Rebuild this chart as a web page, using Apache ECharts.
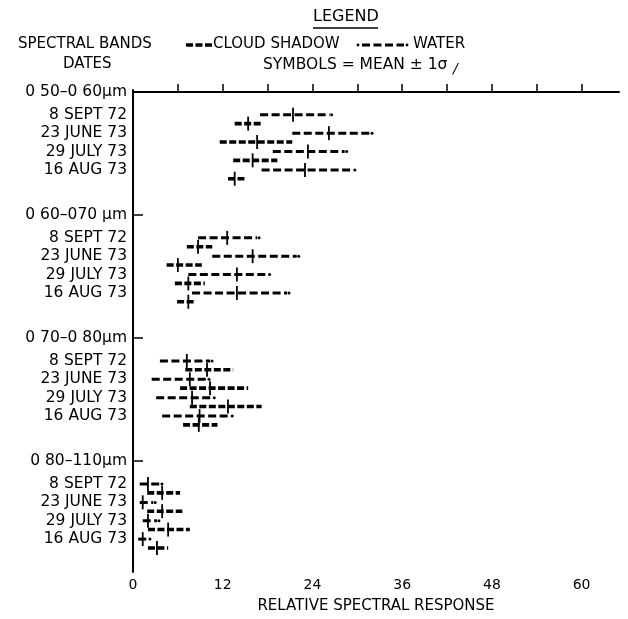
<!DOCTYPE html>
<html>
<head>
<meta charset="utf-8">
<script src="https://cdn.jsdelivr.net/npm/echarts@6/dist/echarts.min.js"></script>
<style>
  html, body { margin: 0; padding: 0; background: #fff; }
  #chart { width: 628px; height: 619px; }
</style>
</head>
<body>
<div id="chart"></div>
<script>
// spectral bands and dates (y axis labels)
const bands = ['0 50\u20130 60\u03bcm', '0 60\u2013070 \u03bcm', '0 70\u20130 80\u03bcm', '0 80\u2013110\u03bcm'];
const dates = ['8 SEPT 72', '23 JUNE 73', '29 JULY 73', '16 AUG 73'];

// relative spectral response, rows = band, cols = date
const waterLow  = [[17.0, 21.3, 18.7, 17.2], [8.7, 10.6, 7.4, 7.9], [3.6, 2.5, 3.1, 3.9], [0.9, 0.9, 1.3, 0.7]];
const waterMean = [[21.4, 26.2, 23.4, 23.0], [12.6, 16.0, 13.9, 13.9], [7.2, 7.6, 7.9, 8.9], [2.0, 1.3, 2.0, 1.3]];
const waterHigh = [[26.3, 31.7, 28.3, 29.4], [16.6, 21.9, 18.0, 20.6], [10.3, 9.9, 10.6, 13.0], [3.6, 2.7, 3.2, 2.0]];

const cloudLow  = [[13.6, 11.6, 13.4, 12.7], [7.2, 4.5, 5.6, 5.9], [7.0, 6.3, 7.6, 6.7], [1.9, 1.9, 2.0, 2.0]];
const cloudMean = [[15.4, 16.6, 16.0, 13.6], [8.7, 6.0, 7.4, 7.4], [9.9, 10.3, 12.7, 8.8], [3.9, 3.9, 4.7, 3.2]];
const cloudHigh = [[17.2, 21.3, 19.3, 15.0], [10.6, 9.2, 9.6, 8.3], [13.4, 15.4, 17.2, 11.3], [6.3, 6.6, 7.6, 4.7]];

// x axis ticks
const xLabels = [0, 12, 24, 36, 48, 60];
const xTicks = [6, 12, 18, 24, 30, 36, 42, 48, 54, 60];

// row layout in y units
const GROUP_STEP = 6.7;
const FIRST_DATE = 1.24;
const CLOUD_OFFSET = 0.48;

const labelMap = {};
const bandPos = [];
const labelPos = [];
const waterData = [];
const cloudData = [];
bands.forEach((b, g) => {
  const by = g * GROUP_STEP;
  bandPos.push(by);
  labelPos.push(by);
  labelMap[by.toFixed(3)] = b;
  dates.forEach((d, i) => {
    const dy = by + FIRST_DATE + i;
    labelPos.push(dy);
    labelMap[dy.toFixed(3)] = d;
    waterData.push([waterLow[g][i], waterMean[g][i], waterHigh[g][i], dy]);
    cloudData.push([cloudLow[g][i], cloudMean[g][i], cloudHigh[g][i], dy + CLOUD_OFFSET]);
  });
});

const FONT = 'DejaVu Sans';

function makeRender(kind) {
  return function (params, api) {
    const y = api.value(3);
    const lo = api.coord([api.value(0), y]);
    const mid = api.coord([api.value(1), y]);
    const hi = api.coord([api.value(2), y]);
    const children = [
      {
        type: 'line',
        shape: { x1: lo[0], y1: lo[1], x2: hi[0], y2: hi[1] },
        style: kind === 'water'
          ? { stroke: '#000', lineWidth: 3, lineDash: [8, 3.5] }
          : { stroke: '#000', lineWidth: 3.6, lineDash: [7, 2.5] }
      },
      {
        type: 'line',
        shape: { x1: mid[0], y1: mid[1] - 7, x2: mid[0], y2: mid[1] + 7 },
        style: { stroke: '#000', lineWidth: 1.8 }
      }
    ];
    if (kind === 'water') {
      children.push({ type: 'circle', shape: { cx: hi[0] + 2, cy: hi[1], r: 1.5 }, style: { fill: '#000' } });
    }
    return { type: 'group', children: children };
  };
}

const chart = echarts.init(document.getElementById('chart'));
chart.setOption({
  backgroundColor: '#fff',
  animation: false,
  grid: { left: 133, right: 9, top: 90, bottom: 41, containLabel: false },
  xAxis: {
    type: 'value',
    min: 0,
    max: 65,
    name: 'RELATIVE SPECTRAL RESPONSE',
    nameLocation: 'middle',
    nameGap: 27,
    nameTextStyle: { fontFamily: FONT, fontSize: 15, color: '#000' },
    axisLine: { show: true, lineStyle: { color: '#000', width: 2 } },
    axisTick: { show: true, inside: true, length: 8, customValues: xTicks, lineStyle: { color: '#000', width: 1.5 } },
    axisLabel: { customValues: xLabels, margin: 6, fontFamily: FONT, fontSize: 14, color: '#000' },
    splitLine: { show: false }
  },
  yAxis: {
    type: 'value',
    inverse: true,
    min: -0.11,
    max: 26.13,
    axisLine: { show: true, lineStyle: { color: '#000', width: 2 } },
    axisTick: { show: true, inside: true, length: 10, customValues: bandPos, lineStyle: { color: '#000', width: 1.5 } },
    axisLabel: {
      customValues: labelPos,
      margin: 6,
      fontFamily: FONT,
      fontSize: 15.5,
      color: '#000',
      formatter: v => labelMap[Number(v).toFixed(3)] || ''
    },
    splitLine: { show: false }
  },
  graphic: [
    { type: 'text', left: 313, top: 9, style: { text: 'LEGEND', font: '16px ' + FONT, fill: '#000' } },
    { type: 'line', shape: { x1: 313, y1: 28, x2: 378, y2: 28 }, style: { stroke: '#000', lineWidth: 1.4 } },
    { type: 'text', left: 18, top: 37, style: { text: 'SPECTRAL BANDS', font: '15px ' + FONT, fill: '#000' } },
    { type: 'text', left: 63, top: 57, style: { text: 'DATES', font: '15px ' + FONT, fill: '#000' } },
    { type: 'line', shape: { x1: 186, y1: 45, x2: 212, y2: 45 }, style: { stroke: '#000', lineWidth: 3.4, lineDash: [7, 2.5] } },
    { type: 'text', left: 213, top: 37, style: { text: 'CLOUD SHADOW', font: '15px ' + FONT, fill: '#000' } },
    { type: 'line', shape: { x1: 362, y1: 45, x2: 404, y2: 45 }, style: { stroke: '#000', lineWidth: 2.8, lineDash: [8, 3.5] } },
    { type: 'circle', shape: { cx: 358, cy: 45, r: 1.4 }, style: { fill: '#000' } },
    { type: 'circle', shape: { cx: 407, cy: 45, r: 1.4 }, style: { fill: '#000' } },
    { type: 'text', left: 413, top: 37, style: { text: 'WATER', font: '15px ' + FONT, fill: '#000' } },
    { type: 'text', left: 263, top: 57, style: { text: 'SYMBOLS = MEAN \u00b1 1\u03c3', font: '15.5px ' + FONT, fill: '#000' } },
    { type: 'text', left: 453, top: 62, style: { text: '/', font: 'italic 14px ' + FONT, fill: '#000' } }
  ],
  series: [
    { name: 'WATER', type: 'custom', renderItem: makeRender('water'), encode: { x: [0, 1, 2], y: 3 }, data: waterData },
    { name: 'CLOUD SHADOW', type: 'custom', renderItem: makeRender('cloud'), encode: { x: [0, 1, 2], y: 3 }, data: cloudData }
  ]
});
</script>
</body>
</html>
